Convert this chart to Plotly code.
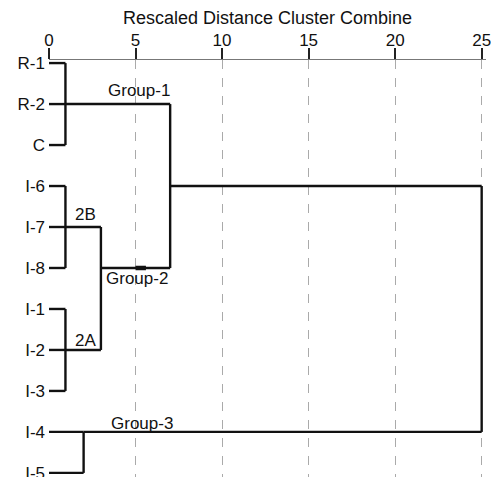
import plotly.graph_objects as go

# ---- data ----
leaf_labels = ["R-1", "R-2", "C", "I-6", "I-7", "I-8", "I-1", "I-2", "I-3", "I-4", "I-5"]
# merges: children (leaf index "Lk" or merge name), merge distance, outgoing row
merge_names = ["Group-1", "2B", "2A", "Group-3", "Group-2", "G12", "Root"]
merge_children = [
    ["L0", "L1", "L2"],
    ["L3", "L4", "L5"],
    ["L6", "L7", "L8"],
    ["L9", "L10"],
    ["2B", "2A"],
    ["Group-1", "Group-2"],
    ["G12", "Group-3"],
]
merge_dist = [0.95, 0.95, 0.95, 2.0, 3.0, 7.0, 25.0]
merge_out_row = [1, 4, 7, 9, 5, 3, None]
cluster_labels = ["Group-1", "2B", "2A", "Group-3", "Group-2"]
label_x = [5.2, 2.1, 2.1, 5.35, 5.1]
label_dy = [-0.33, -0.3, -0.22, -0.2, 0.25]
x_ticks = [0, 5, 10, 15, 20, 25]

LINE = dict(color="#111111", width=2.4)

info = {}
for i, lab in enumerate(leaf_labels):
    info["L%d" % i] = (i, 0.0)

xs, ys = [], []
for name, kids, d, out in zip(merge_names, merge_children, merge_dist, merge_out_row):
    rows = []
    for k in kids:
        r, h = info[k]
        rows.append(r)
        xs += [h, d, None]
        ys += [r, r, None]
    xs += [d, d, None]
    ys += [min(rows), max(rows), None]
    info[name] = (out, d)

fig = go.Figure()
fig.add_trace(go.Scatter(x=xs, y=ys, mode="lines", line=LINE,
                         hoverinfo="skip", showlegend=False))
# small thick mark on Group-2 branch
g2_row = info["Group-2"][0]
fig.add_trace(go.Scatter(x=[5.0, 5.6], y=[g2_row, g2_row], mode="lines",
                         line=dict(color="#111111", width=4.5),
                         hoverinfo="skip", showlegend=False))

for lab, lx, dy in zip(cluster_labels, label_x, label_dy):
    fig.add_annotation(x=lx, y=info[lab][0] + dy, text=lab, showarrow=False,
                       xanchor="center", yanchor="middle",
                       font=dict(size=17, color="#111111"))

fig.update_layout(
    width=491, height=477,
    margin=dict(l=49, r=5, t=60, b=0),
    paper_bgcolor="white", plot_bgcolor="white",
    font=dict(family="Liberation Sans, Arial, sans-serif", color="#111111", size=17),
    title=dict(text="Rescaled Distance Cluster Combine", x=0.5, xref="paper",
               xanchor="center", y=1 - 18 / 477, yanchor="middle",
               font=dict(size=18, color="#111111"), automargin=False),
    xaxis=dict(range=[0, 25.25], side="top", tickvals=x_ticks,
               ticks="outside", ticklen=11, tickwidth=2, tickcolor="#222222",
               showline=True, linecolor="#777777", linewidth=1.5,
               showgrid=True, gridcolor="#aaaaaa", gridwidth=1, griddash="dash",
               zeroline=False, tickfont=dict(size=17), automargin=False,
               ticklabelstandoff=-5, ticklabeloverflow="allow"),
    yaxis=dict(range=[10.1, -0.075], tickvals=list(range(len(leaf_labels))),
               ticktext=leaf_labels, showgrid=False, zeroline=False,
               showline=False, ticks="", ticklabelstandoff=3,
               tickfont=dict(size=17), automargin=False,
               ticklabeloverflow="allow"),
)

fig.write_html("out.html",
               config={"displayModeBar": False, "staticPlot": True},
               post_script="document.body.style.margin='0';document.body.style.overflow='hidden';")
